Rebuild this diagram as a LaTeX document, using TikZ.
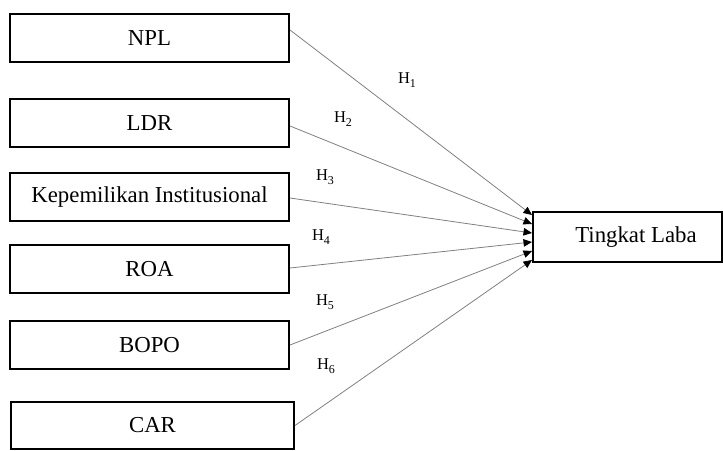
\documentclass[tikz,border=0pt]{standalone}
\usepackage{fontspec}
\setmainfont{Liberation Serif}
\usetikzlibrary{arrows.meta}
\newcommand{\hyp}[1]{H\raisebox{-3.5pt}{\fontsize{12}{13}\selectfont #1}}
\begin{document}
\begin{tikzpicture}[x=1pt,y=-1pt,
  varbox/.style={draw=black,line width=2pt,minimum width=279pt,minimum height=48pt,inner sep=0pt,font=\fontsize{22.8}{26}\selectfont},
  link/.style={draw=black!50,line width=0.8pt,-{Triangle[length=8.5pt,width=7.5pt,black]}},
  hlab/.style={font=\fontsize{16.5}{18}\selectfont,inner sep=0pt}]
\useasboundingbox (0,0) rectangle (723,450);
\node[varbox] (npl) at (149.5,38) {NPL};
\node[varbox] (ldr) at (149.5,123) {LDR};
\node[varbox] (kep) at (149.5,197) {Kepemilikan Institusional};
\node[varbox] (roa) at (149.5,269) {ROA};
\node[varbox] (bopo) at (149.5,345) {BOPO};
\node[varbox,minimum width=283pt,minimum height=47pt] (car) at (152.5,425.5) {CAR};
\node[varbox,minimum width=189pt,minimum height=50pt] (tl) at (627.5,237) {\hspace*{17pt}Tingkat Laba};
\draw[link] ([yshift=8pt]npl.east) -- ([yshift=22pt]tl.west);
\draw[link] ([yshift=-3pt]ldr.east) -- ([yshift=13pt]tl.west);
\draw[link] ([yshift=-1pt]kep.east) -- ([yshift=4pt]tl.west);
\draw[link] ([yshift=1pt]roa.east) -- ([yshift=-5pt]tl.west);
\draw[link] (bopo.east) -- ([yshift=-14pt]tl.west);
\draw[link] (car.east) -- ([yshift=-23pt]tl.west);
\node[hlab] (h1) at (407,80) {\hyp{1}};
\node[hlab] (h2) at (343,119) {\hyp{2}};
\node[hlab] (h3) at (325,177) {\hyp{3}};
\node[hlab] (h4) at (321,237) {\hyp{4}};
\node[hlab] (h5) at (325,302) {\hyp{5}};
\node[hlab] (h6) at (326,366) {\hyp{6}};
\end{tikzpicture}
\end{document}
